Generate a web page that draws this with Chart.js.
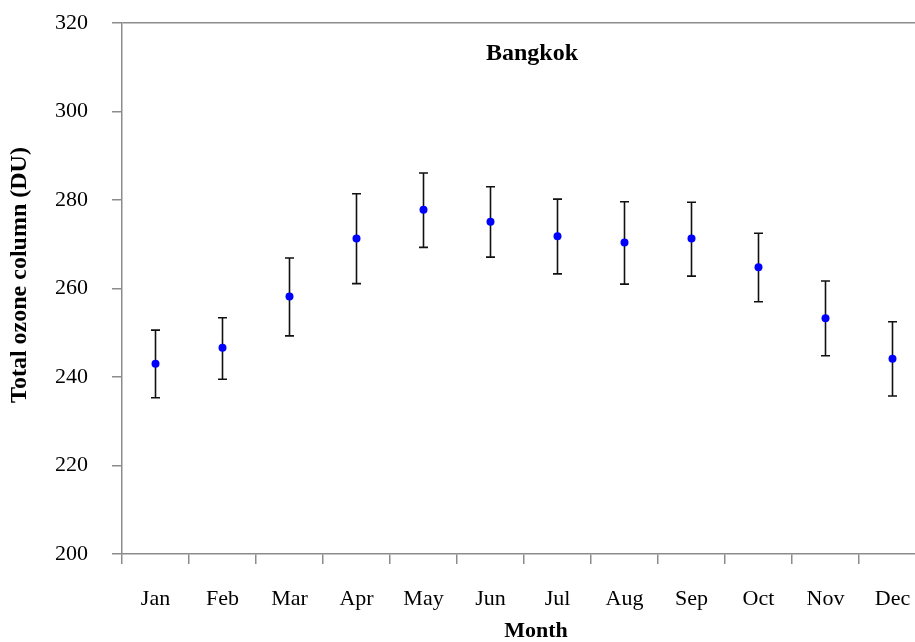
<!DOCTYPE html>
<html>
<head>
<meta charset="utf-8">
<script src="https://cdn.jsdelivr.net/npm/chart.js@4/dist/chart.umd.min.js"></script>
<style>
  html, body { margin: 0; padding: 0; background: #ffffff; overflow: hidden; width: 915px; height: 642px; }
  #wrap { position: absolute; left: 0; top: 0; width: 940px; height: 642px; }
</style>
</head>
<body>
<div id="wrap"><canvas id="c" width="940" height="642"></canvas></div>
<script>
// ---- data ----
const months = ['Jan','Feb','Mar','Apr','May','Jun','Jul','Aug','Sep','Oct','Nov','Dec'];
const meanOzone = [243.0, 246.6, 258.2, 271.3, 277.8, 275.1, 271.8, 270.4, 271.3, 264.8, 253.3, 244.1];
const upperOzone = [250.6, 253.4, 266.9, 281.4, 286.1, 283.0, 280.2, 279.6, 279.5, 272.5, 261.7, 252.5];
const lowerOzone = [235.3, 239.5, 249.3, 261.1, 269.3, 267.1, 263.3, 261.0, 262.8, 257.0, 244.8, 235.7];
const yTicks = [200, 220, 240, 260, 280, 300, 320];
const chartTitle = 'Bangkok';
const xTitle = 'Month';
const yTitle = 'Total ozone column (DU)';

const SERIF = '"Liberation Serif", "Times New Roman", Times, serif';
const AXIS_GRAY = '#8c8c8c';

const errorBars = {
  id: 'errorBars',
  beforeDatasetsDraw(chart) {
    const ctx = chart.ctx;
    const xs = chart.scales.x, ys = chart.scales.y;
    ctx.save();
    ctx.strokeStyle = '#111111';
    ctx.lineWidth = 1.6;
    const cap = 4.5;
    for (let i = 0; i < months.length; i++) {
      const x = xs.getPixelForValue(i);
      const yt = ys.getPixelForValue(upperOzone[i]);
      const yb = ys.getPixelForValue(lowerOzone[i]);
      ctx.beginPath();
      ctx.moveTo(x, yt); ctx.lineTo(x, yb);
      ctx.moveTo(x - cap, yt); ctx.lineTo(x + cap, yt);
      ctx.moveTo(x - cap, yb); ctx.lineTo(x + cap, yb);
      ctx.stroke();
    }
    ctx.restore();
  }
};

const titles = {
  id: 'titles',
  afterDraw(chart) {
    const ctx = chart.ctx;
    ctx.save();
    ctx.fillStyle = '#000000';
    ctx.textAlign = 'center';
    ctx.textBaseline = 'middle';
    ctx.font = 'bold 24px ' + SERIF;
    ctx.fillText(chartTitle, 532, 54);
    ctx.font = 'bold 22px ' + SERIF;
    ctx.fillText(xTitle, 536, 631);
    ctx.font = 'bold 24px ' + SERIF;
    ctx.translate(20, 275);
    ctx.rotate(-Math.PI / 2);
    ctx.fillText(yTitle, 0, 0);
    ctx.restore();
  }
};

new Chart(document.getElementById('c'), {
  type: 'line',
  data: {
    labels: months,
    datasets: [{
      data: meanOzone,
      showLine: false,
      pointRadius: 4,
      pointHoverRadius: 4,
      pointBackgroundColor: '#0000ff',
      pointBorderColor: '#0000ff',
      pointBorderWidth: 0,
      borderColor: '#0000ff'
    }]
  },
  options: {
    responsive: false,
    animation: false,
    events: [],
    layout: { padding: { top: 23, right: 14, left: 0, bottom: 0 } },
    plugins: { legend: { display: false }, tooltip: { enabled: false }, title: { display: false } },
    scales: {
      x: {
        type: 'category',
        offset: true,
        grid: {
          offset: true,
          drawOnChartArea: false,
          drawTicks: true,
          tickLength: 10,
          color: AXIS_GRAY,
          tickColor: AXIS_GRAY,
          lineWidth: 1.5,
          tickWidth: 1.5
        },
        border: { display: true, color: AXIS_GRAY, width: 1.5 },
        ticks: {
          color: '#000000',
          font: { family: SERIF, size: 22 },
          padding: 22,
          maxRotation: 0,
          autoSkip: false
        },
        afterFit(scale) { scale.height = 88; scale.paddingLeft = 0; scale.paddingRight = 0; }
      },
      y: {
        min: 200,
        max: 320,
        afterBuildTicks(scale) { scale.ticks = yTicks.map(v => ({ value: v })); },
        grid: {
          drawOnChartArea: true,
          drawTicks: true,
          tickLength: 10,
          color: (c) => (c.tick && c.tick.value === 320) ? AXIS_GRAY : 'rgba(0,0,0,0)',
          tickColor: AXIS_GRAY,
          lineWidth: 1.5,
          tickWidth: 1.5
        },
        border: { display: true, color: AXIS_GRAY, width: 1.5 },
        ticks: {
          color: '#000000',
          font: { family: SERIF, size: 22 },
          padding: 24
        },
        afterFit(scale) { scale.width = 122; scale.paddingTop = 0; scale.paddingBottom = 0; }
      }
    }
  },
  plugins: [errorBars, titles]
});
</script>
</body>
</html>
